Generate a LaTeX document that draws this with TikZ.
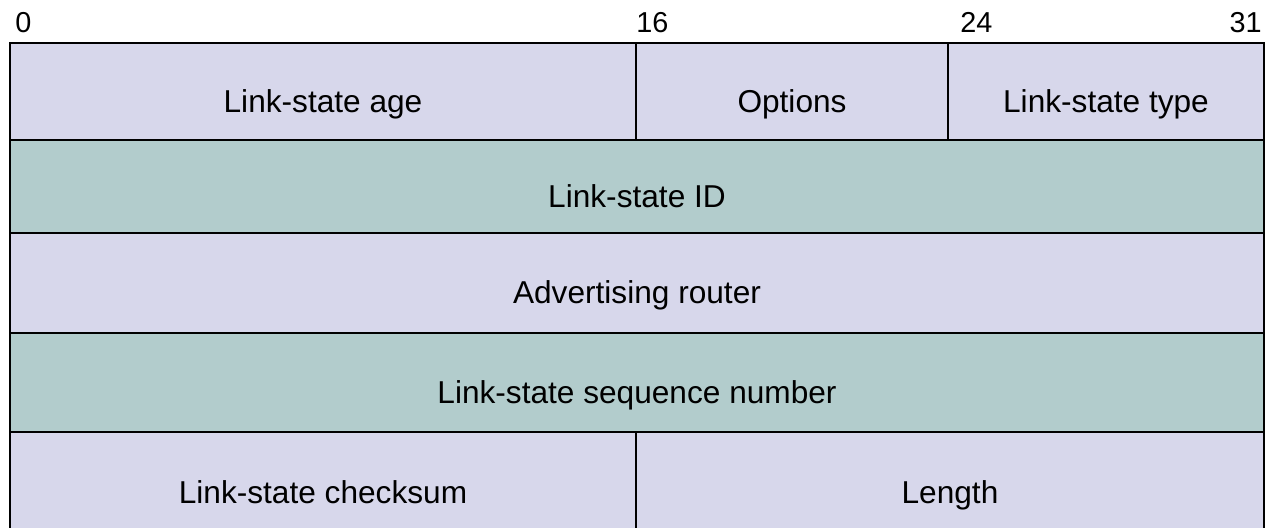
\documentclass[tikz,border=0pt]{standalone}
\usepackage{fontspec}
\setmainfont{Liberation Sans}
\usepackage{xcolor}
\usepackage{tikz}
\usetikzlibrary{positioning}
\definecolor{lsalavender}{HTML}{D7D7EB}
\definecolor{lsagreen}{HTML}{B2CCCC}

\begin{document}
\begin{tikzpicture}[
    field/.style={rectangle, draw=black, line width=1.4pt, fill=#1, inner sep=0pt, outer sep=0pt,
                  text height=1.05cm, text depth=0pt, font=\fontsize{22.5}{27}\selectfont},
    bitnum/.style={inner sep=0pt, font=\fontsize{20.5}{24}\selectfont}
]
\useasboundingbox (0,0) rectangle (31.775,-13.2);

% bit positions
\node[bitnum, anchor=base west] (b0)  at (0.375,-0.825) {0};
\node[bitnum, anchor=base west] (b16) at (15.9,-0.825)  {16};
\node[bitnum, anchor=base west] (b24) at (24.0,-0.825)  {24};
\node[bitnum, anchor=base east] (b31) at (31.55,-0.825) {31};

% header fields
\node[field=lsalavender, minimum width=15.65cm, minimum height=2.425cm] (age)     at (8.075,-2.2875)   {Link-state age};
\node[field=lsalavender, minimum width=7.8cm,   minimum height=2.425cm] (options) at (19.8,-2.2875)    {Options};
\node[field=lsalavender, minimum width=7.9cm,   minimum height=2.425cm] (lstype)  at (27.65,-2.2875)   {Link-state type};
\node[field=lsagreen,    minimum width=31.35cm, minimum height=2.325cm] (lsid)    at (15.925,-4.6625)  {Link-state ID};
\node[field=lsalavender, minimum width=31.35cm, minimum height=2.5cm]   (router)  at (15.925,-7.075)   {Advertising router};
\node[field=lsagreen,    minimum width=31.35cm, minimum height=2.475cm] (seqnum)  at (15.925,-9.5625)  {Link-state sequence number};
\node[field=lsalavender, minimum width=15.65cm, minimum height=2.5cm]   (chksum)  at (8.075,-12.05)    {Link-state checksum};
\node[field=lsalavender, minimum width=15.7cm,  minimum height=2.5cm]   (length)  at (23.75,-12.05)    {Length};
\end{tikzpicture}
\end{document}
